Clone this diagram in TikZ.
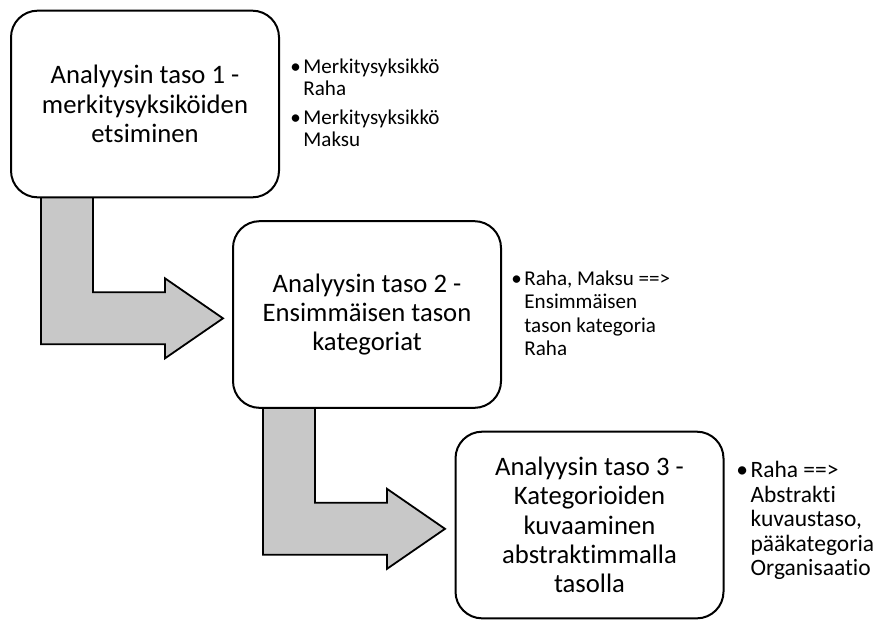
\documentclass[tikz,border=0pt]{standalone}
\usepackage{fontspec}
\setmainfont{Carlito}[Ligatures=NoCommon]
\usepackage{xcolor}
\usetikzlibrary{backgrounds}
\definecolor{arrowgray}{RGB}{200,200,200}

\begin{document}
\begin{tikzpicture}[x=0.75pt, y=-0.75pt,
    level/.style={draw, line width=1.5pt, rounded corners=20pt, fill=white,
        minimum width=201pt, minimum height=140pt, align=center,
        font=\fontsize{20}{22}\selectfont},
    notes/.style={anchor=base west, inner sep=0pt},
    bentarrow/.style={fill=arrowgray, draw, line width=1.35pt, line join=miter}]
    \useasboundingbox (0,0) rectangle (873,619);

    % Create levels
    \node[level] (b1) at (145,104) {Analyysin taso 1 -\\merkitysyksiköiden\\etsiminen};
    \node[level] (b2) at (367,314.5) {Analyysin taso 2 -\\Ensimmäisen tason\\kategoriat};
    \node[level] (b3) at (589.5,525) {Analyysin taso 3 -\\Kategorioiden\\kuvaaminen\\abstraktimmalla\\tasolla};

    % Notes beside levels
    \node[notes, font=\fontsize{15.8}{16.5}\selectfont] (n1) at (290,73.5)
        {\begin{tabular}[t]{@{}l@{\hspace{2pt}}l@{}}
        \textbullet & Merkitysyksikkö\\ & Raha\\[5pt]
        \textbullet & Merkitysyksikkö\\ & Maksu
        \end{tabular}};
    \node[notes, font=\fontsize{15.8}{17.5}\selectfont] (n2) at (511,285.5)
        {\begin{tabular}[t]{@{}l@{\hspace{2pt}}l@{}}
        \textbullet & Raha, Maksu ==>\\ & Ensimmäisen\\ & tason kategoria\\ & Raha
        \end{tabular}};
    \node[notes, font=\fontsize{17.6}{18.4}\selectfont] (n3) at (736,477.5)
        {\begin{tabular}[t]{@{}l@{\hspace{2pt}}l@{}}
        \textbullet & Raha ==>\\ & Abstrakti\\ & kuvaustaso,\\ & pääkategoria\\ & Organisaatio
        \end{tabular}};

    % Draw bent arrows
    \begin{scope}[on background layer]
    \foreach \from in {b1,b2}
        \filldraw[bentarrow, shift={(\from.south west)}] (31,-3) -- (31,146) -- (155,146)
            -- (155,160) -- (213,120) -- (155,80) -- (155,94) -- (83,94) -- (83,-3) -- cycle;
    \end{scope}
\end{tikzpicture}
\end{document}
